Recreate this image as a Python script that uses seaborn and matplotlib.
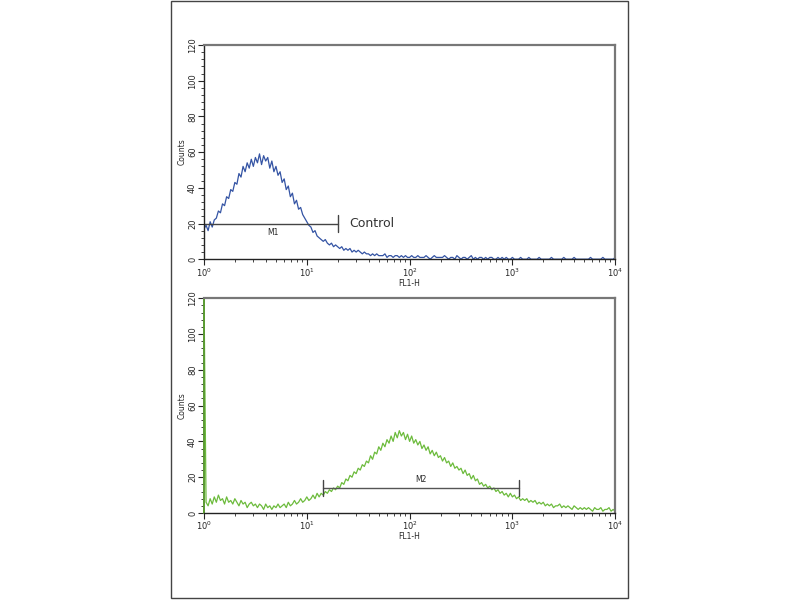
import numpy as np
import pandas as pd
import matplotlib
matplotlib.use("Agg")
import matplotlib.pyplot as plt
from matplotlib.patches import Rectangle
from matplotlib.ticker import LogLocator, MultipleLocator, NullFormatter
import seaborn as sns

# channel grid: log10 positions 0..4 in steps of 0.02 (201 channels)
log_pos = np.linspace(0, 4, 201)

# control histogram (blue)
control_counts = [
    17, 19, 16, 21, 18, 22,
    23, 27, 26, 31, 30, 35, 34, 39, 38, 43,
    42, 48, 46, 52, 49, 54, 51, 56, 52, 57,
    54, 59, 53, 58, 55, 57, 51, 55, 49, 52,
    47, 49, 43, 45, 39, 41, 35, 37, 31, 33,
    28, 29, 25, 23, 21, 19, 18, 15, 16, 13,
    12, 11, 10, 11, 9, 8, 9, 7, 8, 7,
    6, 7, 5, 6, 5, 6, 4, 5, 4, 5,
    4, 3, 4, 3, 3, 2, 3, 2, 3, 2,
    2, 2, 3, 1, 2, 2, 1, 2, 2, 1,
    2, 1, 2, 1, 1, 2, 1, 1, 2, 1,
    1, 1, 2, 1, 0, 1, 2, 1, 1, 1,
    1, 2, 1, 0, 1, 1, 0, 2, 1, 0,
    1, 1, 0, 1, 2, 0, 1, 0, 1, 1,
    0, 1, 0, 1, 1, 0, 0, 1, 0, 1,
    0, 1, 0, 0, 1, 0, 0, 0, 1, 0,
    0, 0, 1, 0, 0, 0, 0, 1, 0, 0,
    0, 0, 0, 1, 0, 0, 0, 0, 0, 1,
    0, 0, 0, 0, 1, 0, 0, 0, 0, 0,
    0, 0, 1, 0, 0, 0, 0, 0, 1, 0,
    0, 0, 0, 0, 1,
]

# stained sample histogram (green), first channel is off scale
sample_counts = [
    130, 6, 4, 8, 5, 9,
    6, 10, 7, 8, 5, 9, 6, 7, 5, 8,
    6, 4, 7, 5, 6, 3, 5, 6, 4, 5,
    3, 5, 4, 2, 5, 3, 4, 2, 4, 3,
    5, 3, 4, 5, 3, 6, 4, 5, 7, 5,
    6, 8, 6, 7, 9, 7, 8, 10, 8, 11,
    9, 11, 10, 12, 11, 13, 12, 14, 13, 15,
    14, 17, 16, 19, 18, 21, 20, 23, 22, 25,
    24, 27, 26, 29, 28, 32, 30, 34, 33, 37,
    35, 39, 37, 41, 39, 43, 40, 45, 42, 46,
    43, 45, 41, 44, 40, 43, 39, 41, 38, 40,
    36, 38, 35, 37, 33, 35, 32, 34, 31, 32,
    29, 31, 28, 29, 26, 28, 25, 26, 24, 25,
    22, 24, 21, 22, 19, 21, 18, 19, 16, 17,
    15, 16, 14, 15, 13, 14, 12, 13, 11, 12,
    10, 11, 9, 11, 9, 10, 8, 9, 7, 8,
    7, 8, 6, 7, 6, 7, 5, 6, 5, 6,
    4, 5, 4, 5, 3, 4, 4, 5, 3, 4,
    3, 4, 3, 2, 4, 3, 2, 3, 2, 3,
    2, 3, 2, 1, 3, 2, 2, 3, 1, 2,
    2, 3, 1, 2, 1,
]

# gate markers: (start, end, level)
m1_gate = (1.0, 20.0, 20)
m2_gate = (14.5, 1170.0, 14)

fl_values = 10 ** log_pos
df_top = pd.DataFrame({"FL1-H": fl_values, "Counts": control_counts})
df_bot = pd.DataFrame({"FL1-H": fl_values, "Counts": np.minimum(sample_counts, 121)})

sns.set_style("ticks")
plt.rcParams["font.family"] = ["DejaVu Sans"]

fig = plt.figure(figsize=(8, 6), dpi=100)
fig.add_artist(Rectangle((171 / 800, 2 / 600), 457 / 800, 597 / 600,
                         transform=fig.transFigure, fill=False,
                         edgecolor="#444444", lw=1.0))

ax1 = fig.add_axes([0.255, 0.568, 0.514, 0.357])
ax2 = fig.add_axes([0.255, 0.145, 0.514, 0.358])

sns.lineplot(data=df_top, x="FL1-H", y="Counts", ax=ax1, color="#3454a4",
             lw=0.9, estimator=None, sort=False)
sns.lineplot(data=df_bot, x="FL1-H", y="Counts", ax=ax2, color="#6cbb3c",
             lw=0.9, estimator=None, sort=False)

for ax in (ax1, ax2):
    ax.set_xscale("log")
    ax.set_xlim(1, 10000)
    ax.set_ylim(0, 120)
    ax.yaxis.set_major_locator(MultipleLocator(20))
    ax.yaxis.set_minor_locator(MultipleLocator(4))
    ax.xaxis.set_major_locator(LogLocator(base=10, numticks=10))
    ax.xaxis.set_minor_locator(LogLocator(base=10, subs=np.arange(2, 10), numticks=10))
    ax.xaxis.set_minor_formatter(NullFormatter())
    ax.tick_params(axis="both", which="major", direction="out", length=4,
                   width=0.8, labelsize=6, pad=1)
    ax.tick_params(axis="both", which="minor", direction="out", length=2, width=0.6)
    for lab in ax.get_yticklabels():
        lab.set_rotation(90)
        lab.set_va("center")
    for s in ("left", "bottom"):
        ax.spines[s].set_color("#222222")
        ax.spines[s].set_linewidth(1.0)
    for s in ("top", "right"):
        ax.spines[s].set_visible(True)
        ax.spines[s].set_color("#777777")
        ax.spines[s].set_linewidth(1.6)
    ax.set_xlabel("FL1-H", fontsize=5.5, labelpad=0)
    ax.set_ylabel("Counts", fontsize=5.5, labelpad=1)

# the off-scale first channel paints the left edge of the lower panel green
ax2.spines["left"].set_color("#5a9a32")
ax2.spines["left"].set_linewidth(1.4)

# M1 gate
x0, x1, lvl = m1_gate
ax1.plot([x0, x1], [lvl, lvl], color="#444444", lw=1.0)
ax1.plot([x1, x1], [lvl - 4.5, lvl + 4.5], color="#444444", lw=1.0)
ax1.text(np.sqrt(x0 * x1) * 1.05, lvl - 2.5, "M1", fontsize=5.5, ha="center", va="top")
ax1.text(x1 * 1.3, lvl, "Control", fontsize=9, ha="left", va="center", color="#333333")

# M2 gate
x0, x1, lvl = m2_gate
ax2.plot([x0, x1], [lvl, lvl], color="#555555", lw=1.0)
for xe in (x0, x1):
    ax2.plot([xe, xe], [lvl - 4.5, lvl + 4.5], color="#444444", lw=1.0)
ax2.text(np.sqrt(x0 * x1), lvl + 2, "M2", fontsize=5.5, ha="center", va="bottom")

fig.savefig("out.png", dpi=100)
